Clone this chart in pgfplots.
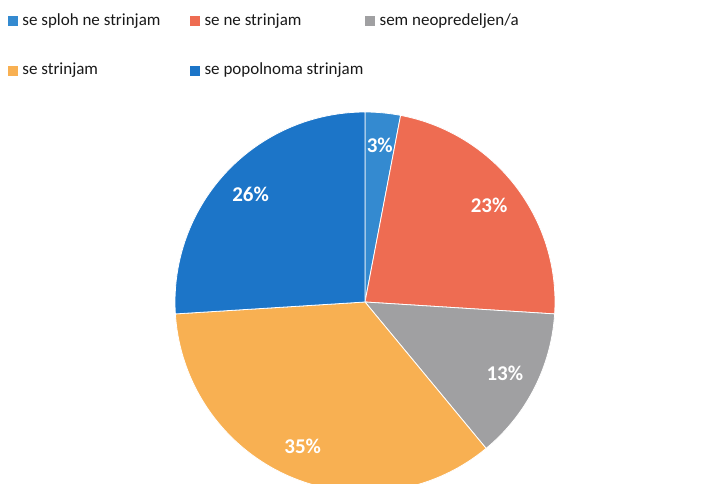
\documentclass[border=0pt]{standalone}
\usepackage{fontspec}
\setmainfont{Carlito}
\usepackage{pgfplots}
\pgfplotsset{compat=1.18}

\definecolor{cSploh}{RGB}{52,138,208}
\definecolor{cNe}{RGB}{238,108,82}
\definecolor{cNeopr}{RGB}{160,160,162}
\definecolor{cStr}{RGB}{248,176,82}
\definecolor{cPopol}{RGB}{28,117,200}
\definecolor{legtext}{RGB}{25,25,25}

% shares in percent, clockwise from 12 o'clock
\def\pA{3}   % se sploh ne strinjam
\def\pB{23}  % se ne strinjam
\def\pC{13}  % sem neopredeljen/a
\def\pD{35}  % se strinjam
\def\pE{26}  % se popolnoma strinjam

\pgfmathsetmacro\aA{90}
\pgfmathsetmacro\aB{\aA-3.6*\pA}
\pgfmathsetmacro\aC{\aB-3.6*\pB}
\pgfmathsetmacro\aD{\aC-3.6*\pC}
\pgfmathsetmacro\aE{\aD-3.6*\pD}
\pgfmathsetmacro\aF{\aE-3.6*\pE}

\def\R{190}  % pie radius
\def\L{157}  % label radius

% colour, start angle, end angle, value
\newcommand\slice[4]{%
  \fill[#1, draw=white, line width=0.8pt] (axis cs:0,0)
    -- (axis cs:{\R*cos(#2)},{\R*sin(#2)})
    arc[start angle=#2, end angle=#3, radius=\R pt] -- cycle;
  \node[text=white, font=\fontsize{21}{24}\selectfont\bfseries]
    at (axis cs:{\L*cos((#2+#3)/2)},{\L*sin((#2+#3)/2)}) {#4\%};
}

\begin{document}
\begin{tikzpicture}
\begin{axis}[
  name=pie,
  scale only axis, width=702pt, height=483pt,
  xmin=-365, xmax=337, ymin=-181, ymax=302,
  hide axis, clip=true,
  legend columns=3,
  legend image code/.code={\fill[#1, draw=none] (0pt,-5pt) rectangle (10pt,5pt);
    \path (12pt,0pt);},
  legend cell align=left,
  legend style={at={(axis description cs:0.0114,0.977)}, anchor=north west,
    draw=none, fill=none, inner sep=0pt,
    font=\fontsize{17}{20}\selectfont, text=legtext,
    row sep=30pt,
    nodes={inner sep=2pt, text height=12pt, text depth=3.5pt},
    /tikz/every even column/.append style={column sep=0pt}},
]
\addlegendimage{fill=cSploh}\addlegendentry{\makebox[166pt][l]{se sploh ne strinjam}}
\addlegendimage{fill=cNe}\addlegendentry{\makebox[158pt][l]{se ne strinjam}}
\addlegendimage{fill=cNeopr}\addlegendentry{sem neopredeljen/a}
\addlegendimage{fill=cStr}\addlegendentry{se strinjam}
\addlegendimage{fill=cPopol}\addlegendentry{se popolnoma strinjam}

\slice{cSploh}{\aA}{\aB}{\pA}
\slice{cNe}{\aB}{\aC}{\pB}
\slice{cNeopr}{\aC}{\aD}{\pC}
\slice{cStr}{\aD}{\aE}{\pD}
\slice{cPopol}{\aE}{\aF}{\pE}
\end{axis}
\pgfresetboundingbox
\path[use as bounding box] (pie.south west) rectangle (pie.north east);
\end{tikzpicture}
\end{document}
